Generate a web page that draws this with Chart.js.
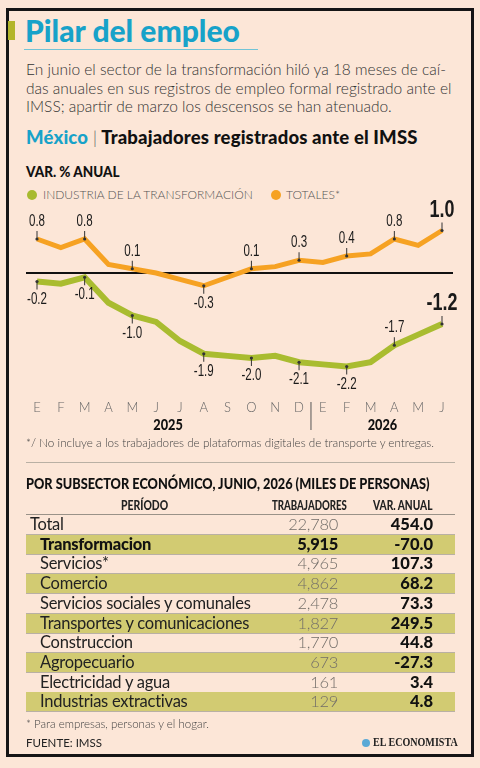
<!DOCTYPE html>
<html>
<head>
<meta charset="utf-8">
<title>Pilar del empleo</title>
<script src="https://cdn.jsdelivr.net/npm/chart.js"></script>
<style>
  body { margin: 0; width: 480px; height: 768px; background: #fce6d7; position: relative; overflow: hidden; font-family: "Lato", sans-serif; }
  .abs { position: absolute; white-space: nowrap; }
  #frame { position: absolute; left: 6px; top: 8px; width: 468px; height: 749px; box-sizing: border-box; border: 3px solid #151515; }
  .cond { transform-origin: left center; }
  .row { position: absolute; left: 26px; width: 429px; height: 19px; border-bottom: 1px solid #b9b0a4; font-size: 16.5px; line-height: 19px; }
  .row.hl { background: #d2cb72; }
  .row .name { position: absolute; left: 14px; color: #222; letter-spacing: -0.25px; }
  .row .num { position: absolute; right: 117px; color: #736e69; font-weight: 300; letter-spacing: -0.3px; }
  .row .chg { position: absolute; right: 22px; color: #111; font-weight: 900; }
</style>
</head>
<body>
<div id="frame"></div>
<div class="abs" style="left:8px;top:21px;width:7px;height:19px;background:#b3b52a"></div>
<div class="abs" style="left:25px;top:12px;font-size:30px;font-weight:900;color:#17a2c9;">Pilar del empleo</div>
<div class="abs" style="left:24px;top:49px;width:234px;height:1px;background:#72c4d6"></div>
<div class="abs" style="left:26px;top:60px;font-size:15.5px;line-height:18.5px;font-weight:300;color:#333;">En junio el sector de la transformación hiló ya 18 meses de caí-<br>das anuales en sus registros de empleo formal registrado ante el<br>IMSS; apartir de marzo los descensos se han atenuado.</div>
<div class="abs" style="left:26px;top:126px;font-size:18.5px;font-weight:900;color:#111;letter-spacing:0.15px;"><span style="color:#17a2c9">México</span> <span style="font-weight:300;color:#666">|</span> Trabajadores registrados ante el IMSS</div>
<div class="abs cond" style="left:26px;top:162px;font-size:15px;font-weight:900;color:#111;transform:scaleX(0.9);">VAR. % ANUAL</div>
<div class="abs" style="left:27px;top:190px;width:10px;height:10px;border-radius:50%;background:#a7ba2f"></div>
<div class="abs" style="left:43px;top:187px;font-size:12px;font-weight:300;color:#555;">INDUSTRIA DE LA TRANSFORMACIÓN</div>
<div class="abs" style="left:271px;top:190px;width:10px;height:10px;border-radius:50%;background:#f6a223"></div>
<div class="abs" style="left:286px;top:187px;font-size:12px;font-weight:300;color:#555;">TOTALES*</div>

<div class="abs" style="left:0;top:200px;width:480px;height:240px;"><canvas id="empleoChart" width="480" height="240"></canvas></div>

<div class="abs" style="left:26px;top:435px;font-size:11.7px;font-weight:300;color:#444;">*/ No incluye a los trabajadores de plataformas digitales de transporte y entregas.</div>
<div class="abs" style="left:26px;top:462px;width:429px;height:1px;background:#b9b0a4"></div>
<div class="abs cond" style="left:26px;top:474px;font-size:15px;font-weight:900;color:#111;transform:scaleX(0.85);">POR SUBSECTOR ECONÓMICO, JUNIO, 2026 (MILES DE PERSONAS)</div>
<div class="abs cond" style="left:121px;top:497px;font-size:13px;font-weight:900;color:#222;transform:scaleX(0.8);">PERÍODO</div>
<div class="abs cond" style="left:272px;top:497px;font-size:13px;font-weight:900;color:#222;transform:scaleX(0.74);">TRABAJADORES</div>
<div class="abs cond" style="left:373px;top:497px;font-size:13px;font-weight:900;color:#222;transform:scaleX(0.78);">VAR. ANUAL</div>
<div class="abs" style="left:26px;top:514px;width:429px;height:1px;background:#9a9288"></div>
<div id="table"></div>
<div class="abs" style="left:26px;top:717px;font-size:11.5px;font-weight:300;color:#444;">* Para empresas, personas y el hogar.</div>
<div class="abs" style="left:26px;top:736px;font-size:11.5px;color:#222;">FUENTE: IMSS</div>
<div class="abs" style="left:362px;top:739px;width:8px;height:8px;border-radius:50%;background:#5aa9d6"></div>
<div class="abs cond" style="left:373px;top:735px;font-size:12px;font-weight:bold;color:#222;font-family:'Liberation Serif',serif;transform:scaleX(0.84);">EL ECONOMISTA</div>

<script>
// Serie mensual, variación % anual
const meses = ['E', 'F', 'M', 'A', 'M', 'J', 'J', 'A', 'S', 'O', 'N', 'D', 'E', 'F', 'M', 'A', 'M', 'J'];
const anios = ['2025', '2026'];
const totales = [0.8, 0.6, 0.8, 0.2, 0.1, 0.0, -0.15, -0.3, -0.1, 0.1, 0.15, 0.3, 0.25, 0.4, 0.45, 0.8, 0.65, 1.0];
const industria = [-0.2, -0.25, -0.1, -0.7, -1.0, -1.15, -1.6, -1.9, -1.95, -2.0, -1.95, -2.1, -2.15, -2.2, -2.1, -1.7, -1.45, -1.2];
const etiquetados = [0, 2, 4, 7, 9, 11, 13, 15, 17];

// Tabla por subsector
const sectores = ['Total', 'Transformacion', 'Servicios*', 'Comercio', 'Servicios sociales y comunales',
  'Transportes y comunicaciones', 'Construccion', 'Agropecuario', 'Electricidad y agua', 'Industrias extractivas'];
const trabajadores = ['22,780', '5,915', '4,965', '4,862', '2,478', '1,827', '1,770', '673', '161', '129'];
const varAnual = ['454.0', '-70.0', '107.3', '68.2', '73.3', '249.5', '44.8', '-27.3', '3.4', '4.8'];

const tabla = document.getElementById('table');
sectores.forEach((s, i) => {
  const row = document.createElement('div');
  row.className = 'row' + (i % 2 === 1 ? ' hl' : '');
  row.style.top = (515 + i * 19.7) + 'px';
  const bold = i === 1;
  row.innerHTML =
    '<span class="name" style="left:' + (i === 0 ? 4 : 14) + 'px;' + (bold ? 'font-weight:900;color:#111' : '') + '">' + s + '</span>' +
    '<span class="num" style="' + (bold ? 'font-weight:900;color:#111' : '') + '">' + trabajadores[i] + '</span>' +
    '<span class="chg">' + varAnual[i] + '</span>';
  tabla.appendChild(row);
});

function condText(ctx, text, x, y, sx) {
  ctx.save();
  ctx.translate(x, y);
  ctx.scale(sx, 1);
  ctx.fillText(text, 0, 0);
  ctx.restore();
}

const lineaCero = {
  id: 'lineaCero',
  beforeDatasetsDraw(chart) {
    const ctx = chart.ctx;
    const y = chart.scales.y.getPixelForValue(0);
    ctx.save();
    ctx.strokeStyle = '#111';
    ctx.lineWidth = 2;
    ctx.beginPath();
    ctx.moveTo(26, y);
    ctx.lineTo(453, y);
    ctx.stroke();
    ctx.restore();
  }
};

const etiquetas = {
  id: 'etiquetas',
  afterDatasetsDraw(chart) {
    const ctx = chart.ctx;
    const last = meses.length - 1;
    chart.data.datasets.forEach((ds, di) => {
      const meta = chart.getDatasetMeta(di);
      etiquetados.forEach(i => {
        const v = ds.data[i];
        const p = meta.data[i];
        const above = di === 1 ? v >= 0 : i >= 15;
        const dir = above ? -1 : 1;
        ctx.save();
        ctx.strokeStyle = '#333';
        ctx.lineWidth = 1;
        ctx.beginPath();
        ctx.moveTo(p.x, p.y);
        ctx.lineTo(p.x, p.y + dir * 8);
        ctx.stroke();
        ctx.fillStyle = '#333';
        ctx.beginPath();
        ctx.arc(p.x, p.y, 1.6, 0, Math.PI * 2);
        ctx.fill();
        ctx.fillStyle = '#1a1a1a';
        ctx.textAlign = 'center';
        ctx.textBaseline = 'middle';
        if (i === last) {
          ctx.font = 'bold 23px "Liberation Sans"';
          condText(ctx, v.toFixed(1), p.x, p.y + dir * 20, 0.78);
        } else {
          ctx.font = '17px "Liberation Sans"';
          condText(ctx, v.toFixed(1), p.x, p.y + dir * 17.5, 0.68);
        }
        ctx.restore();
      });
    });
  },
  afterDraw(chart) {
    const ctx = chart.ctx;
    const x = chart.scales.x;
    const sep = (x.getPixelForValue(11) + x.getPixelForValue(12)) / 2;
    ctx.save();
    ctx.strokeStyle = '#555';
    ctx.lineWidth = 1;
    ctx.beginPath();
    ctx.moveTo(sep, 202);
    ctx.lineTo(sep, 230);
    ctx.stroke();
    ctx.fillStyle = '#111';
    ctx.textAlign = 'center';
    ctx.textBaseline = 'middle';
    ctx.font = '900 15px Lato';
    condText(ctx, anios[0], (x.getPixelForValue(0) + x.getPixelForValue(11)) / 2, 225, 0.85);
    condText(ctx, anios[1], (x.getPixelForValue(12) + x.getPixelForValue(17)) / 2, 225, 0.85);
    ctx.restore();
  }
};

new Chart(document.getElementById('empleoChart'), {
  type: 'line',
  data: {
    labels: meses,
    datasets: [{
      label: 'INDUSTRIA DE LA TRANSFORMACIÓN',
      data: industria,
      borderColor: '#a9bc30',
      borderWidth: 6,
      pointRadius: 0,
      tension: 0
    }, {
      label: 'TOTALES*',
      data: totales,
      borderColor: '#f6a223',
      borderWidth: 5,
      pointRadius: 0,
      tension: 0
    }]
  },
  options: {
    responsive: false,
    animation: false,
    layout: { padding: { left: 37, right: 38, top: 13.5, bottom: 0 } },
    plugins: { legend: { display: false }, tooltip: { enabled: false } },
    scales: {
      x: {
        grid: { display: false, drawTicks: false },
        border: { display: false },
        ticks: { color: '#666', font: { family: 'Lato', size: 13, weight: 300 }, padding: 17, maxRotation: 0, autoSkip: false },
        afterFit(scale) { scale.height = 56.5; }
      },
      y: {
        display: false,
        min: -2.6,
        max: 1.4
      }
    }
  },
  plugins: [lineaCero, etiquetas]
});
</script>
</body>
</html>
